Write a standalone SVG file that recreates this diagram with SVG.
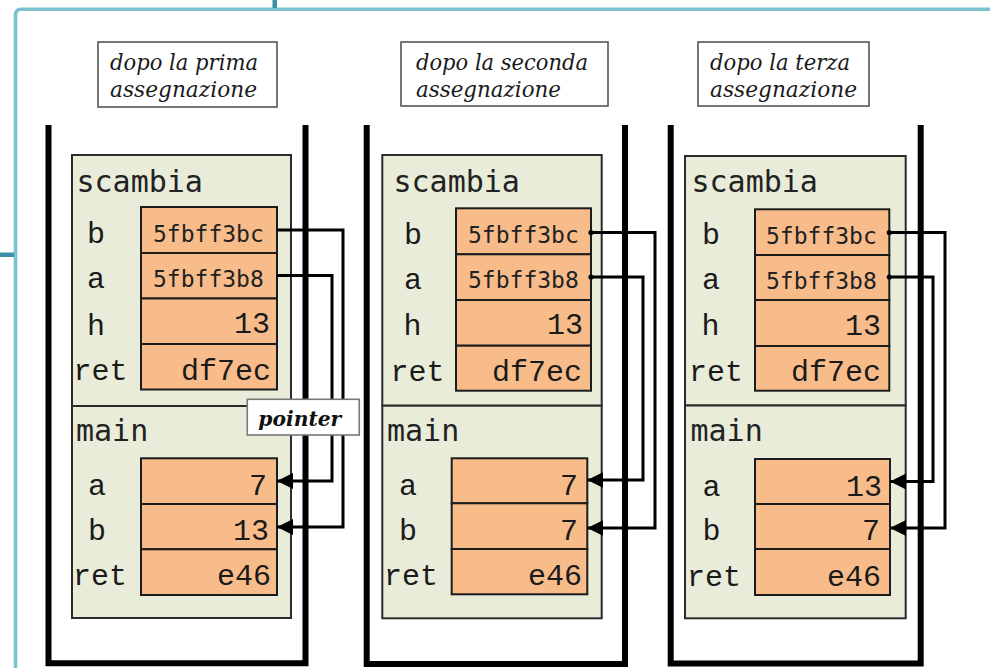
<svg xmlns="http://www.w3.org/2000/svg" width="990" height="668" viewBox="0 0 990 668">
  <style>
    .border{fill:none;stroke:#7cc1d0;stroke-width:3.6}
    .tick{fill:#3b8ea6}
    .capbox{fill:#fff;stroke:#555;stroke-width:1.6}
    .cap{font-family:"DejaVu Serif","Liberation Serif",serif;font-style:italic;font-size:22px;fill:#1a1a1a}
    .wall{fill:none;stroke:#000;stroke-width:6;stroke-linejoin:miter}
    .frame{fill:#e8ecd9;stroke:#2b2b2b;stroke-width:2}
    .cell{fill:#f8bc8a;stroke:#1c1c1c;stroke-width:2}
    .hdr{font-family:"DejaVu Sans Mono",monospace;font-size:30px;fill:#222}
    .lbl{font-family:"Liberation Mono",monospace;font-size:30px;fill:#1a1a1a;text-anchor:middle}
    .val{font-family:"Liberation Mono",monospace;font-size:30px;fill:#1a1a1a;text-anchor:end}
    .addr{font-family:"DejaVu Sans Mono",monospace;font-size:23px;fill:#222}
    .link{fill:none;stroke:#000;stroke-width:3}
    .ptrbox{fill:#fff;stroke:#777;stroke-width:1.6}
    .ptr{font-family:"DejaVu Serif","Liberation Serif",serif;font-style:italic;font-weight:bold;font-size:20px;fill:#111}
  </style>
  <defs>
    <marker id="head" markerUnits="userSpaceOnUse" markerWidth="18" markerHeight="18" refX="16" refY="8" orient="auto">
      <path d="M0,0 L16,8 L0,16 Z" fill="#000"/>
    </marker>
    <marker id="dot" markerUnits="userSpaceOnUse" markerWidth="8" markerHeight="8" refX="4" refY="4" orient="auto">
      <circle cx="4" cy="4" r="2.6" fill="#000"/>
    </marker>
  </defs>

  <!-- slide frame -->
  <g id="slide-frame">
    <path class="border" d="M15.5,668 V15 Q15.5,9.2 21,9.2 H990"/>
    <rect class="tick" x="272.5" y="0" width="4.5" height="8"/>
    <rect class="tick" x="0" y="252.5" width="14" height="4.5"/>
  </g>

  <!-- captions -->
  <g id="caption-1">
    <rect class="capbox" x="98" y="42" width="179" height="65"/>
    <text class="cap" x="110" y="70" textLength="148" lengthAdjust="spacingAndGlyphs">dopo la prima</text>
    <text class="cap" x="110" y="97" textLength="147" lengthAdjust="spacingAndGlyphs">assegnazione</text>
  </g>
  <g id="caption-2">
    <rect class="capbox" x="401" y="42" width="207" height="64"/>
    <text class="cap" x="416" y="70" textLength="172" lengthAdjust="spacingAndGlyphs">dopo la seconda</text>
    <text class="cap" x="416" y="97" textLength="145" lengthAdjust="spacingAndGlyphs">assegnazione</text>
  </g>
  <g id="caption-3">
    <rect class="capbox" x="698" y="42" width="171" height="64"/>
    <text class="cap" x="710" y="70" textLength="140" lengthAdjust="spacingAndGlyphs">dopo la terza</text>
    <text class="cap" x="710" y="97" textLength="147" lengthAdjust="spacingAndGlyphs">assegnazione</text>
  </g>

  <!-- stack walls -->
  <g id="walls">
    <path class="wall" d="M48.5,125 V663.3 H305.5 V125"/>
    <path class="wall" d="M366.7,125 V664 H625 V125"/>
    <path class="wall" d="M670.7,125 V663.5 H920.7 V125"/>
  </g>

  <!-- stack 1 -->
  <g id="scambia-1">
    <rect class="frame" x="72" y="155" width="219" height="251"/>
    <text class="hdr" x="76.5" y="192">scambia</text>
    <rect class="cell" x="141" y="207" width="136" height="46"/>
    <rect class="cell" x="141" y="253" width="136" height="45.5"/>
    <rect class="cell" x="141" y="298.5" width="136" height="45.5"/>
    <rect class="cell" x="141" y="344" width="136" height="45.5"/>
    <text class="lbl" x="96" y="243">b</text>
    <text class="lbl" x="96" y="288">a</text>
    <text class="lbl" x="96" y="335">h</text>
    <text class="lbl" x="100.5" y="380">ret</text>
    <text class="addr" x="153" y="241.5">5fbff3bc</text>
    <text class="addr" x="153" y="286.5">5fbff3b8</text>
    <text class="val" x="270" y="333">13</text>
    <text class="val" x="271" y="380">df7ec</text>
  </g>
  <g id="main-1">
    <rect class="frame" x="72" y="406" width="219" height="212"/>
    <text class="hdr" x="76" y="441">main</text>
    <rect class="cell" x="141" y="458.3" width="136" height="45.7"/>
    <rect class="cell" x="141" y="504" width="136" height="45.3"/>
    <rect class="cell" x="141" y="549.3" width="136" height="45.7"/>
    <text class="lbl" x="97" y="495">a</text>
    <text class="lbl" x="97" y="539.5">b</text>
    <text class="lbl" x="100" y="585">ret</text>
    <text class="val" x="267" y="495">7</text>
    <text class="val" x="269" y="539.5">13</text>
    <text class="val" x="271" y="585">e46</text>
  </g>

  <!-- stack 2 -->
  <g id="scambia-2">
    <rect class="frame" x="382.3" y="155" width="219.4" height="250.7"/>
    <text class="hdr" x="393.5" y="192">scambia</text>
    <rect class="cell" x="456" y="208.3" width="135" height="46"/>
    <rect class="cell" x="456" y="254.3" width="135" height="45.7"/>
    <rect class="cell" x="456" y="300" width="135" height="45.7"/>
    <rect class="cell" x="456" y="345.7" width="135" height="45"/>
    <text class="lbl" x="413" y="244">b</text>
    <text class="lbl" x="413" y="289">a</text>
    <text class="lbl" x="412.5" y="335">h</text>
    <text class="lbl" x="417.5" y="381">ret</text>
    <text class="addr" x="468" y="243">5fbff3bc</text>
    <text class="addr" x="468" y="288">5fbff3b8</text>
    <text class="val" x="583" y="334">13</text>
    <text class="val" x="582" y="381">df7ec</text>
  </g>
  <g id="main-2">
    <rect class="frame" x="382.3" y="405.7" width="219.4" height="212.6"/>
    <text class="hdr" x="387" y="441">main</text>
    <rect class="cell" x="451.7" y="458.3" width="135.6" height="45"/>
    <rect class="cell" x="451.7" y="503.3" width="135.6" height="45.7"/>
    <rect class="cell" x="451.7" y="549" width="135.6" height="45.3"/>
    <text class="lbl" x="408" y="495">a</text>
    <text class="lbl" x="408" y="540">b</text>
    <text class="lbl" x="411" y="585">ret</text>
    <text class="val" x="578" y="495">7</text>
    <text class="val" x="578" y="540">7</text>
    <text class="val" x="582" y="585">e46</text>
  </g>

  <!-- stack 3 -->
  <g id="scambia-3">
    <rect class="frame" x="685" y="156" width="220.7" height="249.5"/>
    <text class="hdr" x="691.5" y="192">scambia</text>
    <rect class="cell" x="755" y="209.3" width="134.3" height="45.7"/>
    <rect class="cell" x="755" y="255" width="134.3" height="45"/>
    <rect class="cell" x="755" y="300" width="134.3" height="46"/>
    <rect class="cell" x="755" y="346" width="134.3" height="44.7"/>
    <text class="lbl" x="711" y="244">b</text>
    <text class="lbl" x="711" y="289">a</text>
    <text class="lbl" x="710.5" y="335">h</text>
    <text class="lbl" x="716" y="381">ret</text>
    <text class="addr" x="766" y="244">5fbff3bc</text>
    <text class="addr" x="766" y="289">5fbff3b8</text>
    <text class="val" x="881" y="335">13</text>
    <text class="val" x="881" y="381">df7ec</text>
  </g>
  <g id="main-3">
    <rect class="frame" x="685" y="405.5" width="220.7" height="212.8"/>
    <text class="hdr" x="690.5" y="441">main</text>
    <rect class="cell" x="755" y="459" width="135" height="45"/>
    <rect class="cell" x="755" y="504" width="135" height="45"/>
    <rect class="cell" x="755" y="549" width="135" height="46"/>
    <text class="lbl" x="711.5" y="496">a</text>
    <text class="lbl" x="711.5" y="540">b</text>
    <text class="lbl" x="714" y="586">ret</text>
    <text class="val" x="882" y="496">13</text>
    <text class="val" x="880" y="540">7</text>
    <text class="val" x="881" y="586">e46</text>
  </g>

  <!-- pointer links from scambia's parameters to main's variables -->
  <g id="connectors">
    <path class="link" marker-end="url(#head)" d="M277,230 H343 V527 H277"/>
    <path class="link" marker-end="url(#head)" d="M277,275.5 H332 V481 H277"/>
    <path class="link" marker-start="url(#dot)" marker-end="url(#head)" d="M591,232.5 H655 V528 H587.3"/>
    <path class="link" marker-start="url(#dot)" marker-end="url(#head)" d="M591,277 H643 V480 H587.3"/>
    <path class="link" marker-start="url(#dot)" marker-end="url(#head)" d="M889.3,232.5 H945 V528 H890"/>
    <path class="link" marker-start="url(#dot)" marker-end="url(#head)" d="M889.3,277 H933 V481.5 H890"/>
  </g>

  <g id="pointer-label">
    <rect class="ptrbox" x="247.3" y="399.3" width="112" height="35.7"/>
    <text class="ptr" x="258.3" y="425.7" textLength="83" lengthAdjust="spacingAndGlyphs">pointer</text>
  </g>
</svg>
